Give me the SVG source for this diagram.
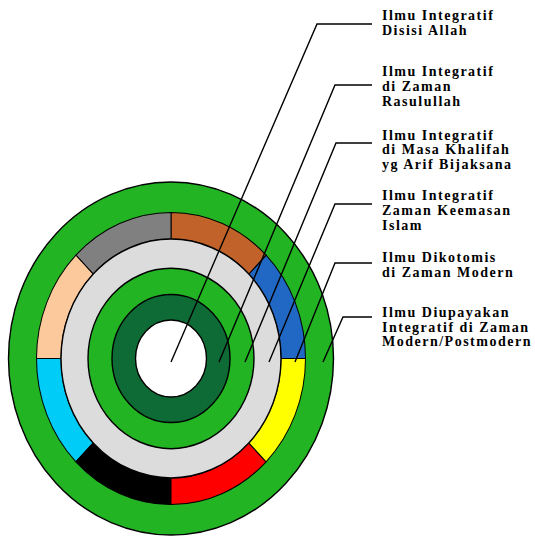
<svg xmlns="http://www.w3.org/2000/svg" width="535" height="540" viewBox="0 0 535 540">
<style>
.ring{stroke:#000;stroke-width:1.4}
.seg{stroke:#000;stroke-width:1}
.lead{fill:none;stroke:#000;stroke-width:1.4}
.lbl{font-family:"Liberation Serif","Times New Roman",serif;font-weight:bold;font-size:14px;letter-spacing:1.5px;fill:#000}
</style>
<rect width="535" height="540" fill="#fff"/>
<g id="rings" transform="translate(171,358.5) scale(1,1.086)">
  <circle id="outer-ring" class="ring" r="162.5" fill="#22b422"/>
  <g id="segments">
    <path id="seg-blue" class="seg" fill="#2068c4" d="M134.5,0 A134.5,134.5 0 0 0 95.11,-95.11 L77.78,-77.78 A110,110 0 0 1 110,0 Z"/>
    <path id="seg-brown" class="seg" fill="#c0622a" d="M95.11,-95.11 A134.5,134.5 0 0 0 0,-134.5 L0,-110 A110,110 0 0 1 77.78,-77.78 Z"/>
    <path id="seg-gray" class="seg" fill="#808080" d="M0,-134.5 A134.5,134.5 0 0 0 -95.11,-95.11 L-77.78,-77.78 A110,110 0 0 1 0,-110 Z"/>
    <path id="seg-peach" class="seg" fill="#fcc99c" d="M-95.11,-95.11 A134.5,134.5 0 0 0 -134.5,0 L-110,0 A110,110 0 0 1 -77.78,-77.78 Z"/>
    <path id="seg-lightblue" class="seg" fill="#00ccf8" d="M-134.5,0 A134.5,134.5 0 0 0 -95.11,95.11 L-77.78,77.78 A110,110 0 0 1 -110,0 Z"/>
    <path id="seg-black" class="seg" fill="#000" d="M-95.11,95.11 A134.5,134.5 0 0 0 0,134.5 L0,110 A110,110 0 0 1 -77.78,77.78 Z"/>
    <path id="seg-red" class="seg" fill="#ff0000" d="M0,134.5 A134.5,134.5 0 0 0 95.11,95.11 L77.78,77.78 A110,110 0 0 1 0,110 Z"/>
    <path id="seg-yellow" class="seg" fill="#ffff00" d="M95.11,95.11 A134.5,134.5 0 0 0 134.5,0 L110,0 A110,110 0 0 1 77.78,77.78 Z"/>
  </g>
  <circle id="gray-ring" class="ring" r="110" fill="#dcdcdc"/>
  <circle id="green-ring" class="ring" r="83" fill="#22b422"/>
  <circle id="darkgreen-ring" class="ring" r="59" fill="#0f6b35"/>
  <circle id="center" class="ring" r="35.5" fill="#fff"/>
</g>
<g id="connectors">
  <polyline class="lead" points="171,362 317,24 372,24"/>
  <polyline class="lead" points="219,362 335,85 372,85"/>
  <polyline class="lead" points="245,362 336,143 372,143"/>
  <polyline class="lead" points="269,362 335,204 372,204"/>
  <polyline class="lead" points="295,362 335,263 372,263"/>
  <polyline class="lead" points="323,362 343,317 372,317"/>
</g>
<g id="label-1">
  <text class="lbl" x="382" y="20">Ilmu Integratif<tspan x="382" dy="15">Disisi Allah</tspan></text>
</g>
<g id="label-2">
  <text class="lbl" x="382" y="76">Ilmu Integratif<tspan x="382" dy="15">di Zaman</tspan><tspan x="382" dy="15">Rasulullah</tspan></text>
</g>
<g id="label-3">
  <text class="lbl" x="382" y="140">Ilmu Integratif<tspan x="382" dy="14.3">di Masa Khalifah</tspan><tspan x="382" dy="14.3">yg Arif Bijaksana</tspan></text>
</g>
<g id="label-4">
  <text class="lbl" x="382" y="200">Ilmu Integratif<tspan x="382" dy="15">Zaman Keemasan</tspan><tspan x="382" dy="15">Islam</tspan></text>
</g>
<g id="label-5">
  <text class="lbl" x="382" y="262">Ilmu Dikotomis<tspan x="382" dy="15">di Zaman Modern</tspan></text>
</g>
<g id="label-6">
  <text class="lbl" x="382" y="317">Ilmu Diupayakan<tspan x="382" dy="14.7">Integratif di Zaman</tspan><tspan x="382" dy="14.7">Modern/Postmodern</tspan></text>
</g>
</svg>
